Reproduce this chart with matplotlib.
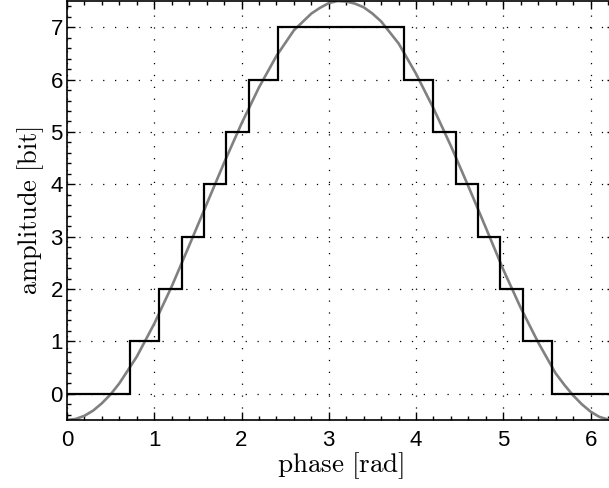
import matplotlib

matplotlib.use('agg')
import matplotlib.pyplot as plt
from matplotlib.ticker import MultipleLocator

# gray reference curve
phase = [0.0, 0.1, 0.2, 0.3, 0.4, 0.5, 0.6, 0.8, 1.0, 1.2, 1.4, 1.6, 1.8,
         2.0, 2.2, 2.4, 2.6, 2.8, 2.9, 3.0, 3.1, 3.2, 3.3, 3.4, 3.5, 3.6,
         3.8, 4.0, 4.2, 4.4, 4.6, 4.8, 5.0, 5.2, 5.4, 5.6, 5.7, 5.8, 5.9,
         6.0, 6.1, 6.2, 6.28]
amplitude = [-0.5, -0.48, -0.42, -0.32, -0.18, -0.01, 0.2, 0.71, 1.34,
             2.05, 2.83, 3.62, 4.41, 5.16, 5.85, 6.45, 6.94, 7.26, 7.37,
             7.46, 7.5, 7.49, 7.45, 7.38, 7.26, 7.11, 6.69, 6.11, 5.45,
             4.73, 3.96, 3.17, 2.37, 1.64, 0.98, 0.39, 0.17, -0.03, -0.2,
             -0.34, -0.44, -0.49, -0.5]

# quantised staircase: level holds from edge[i] to edge[i+1]
step_edges = [0.0, 0.72, 1.05, 1.32, 1.57, 1.82, 2.09, 2.42,
              3.86, 4.19, 4.46, 4.71, 4.96, 5.23, 5.56, 6.28]
step_levels = [0, 1, 2, 3, 4, 5, 6, 7, 6, 5, 4, 3, 2, 1, 0]

plt.rcParams['mathtext.fontset'] = 'cm'
plt.rcParams['font.family'] = ['Liberation Sans', 'DejaVu Sans']

fig = plt.figure(figsize=(6.09, 4.88), dpi=100)
ax = fig.add_axes([67 / 609, (488 - 420) / 488, 548 / 609, 419 / 488])

ax.plot(phase, amplitude, color='#808080', lw=1.9, zorder=2)
ax.stairs(step_levels, step_edges, baseline=None, color='black', lw=1.6,
          zorder=3)

ax.set_xlim(0, 6.28)
ax.set_ylim(-0.5, 7.5)
ax.xaxis.set_major_locator(MultipleLocator(1))
ax.xaxis.set_minor_locator(MultipleLocator(0.2))
ax.yaxis.set_major_locator(MultipleLocator(1))
ax.yaxis.set_minor_locator(MultipleLocator(0.2))
ax.tick_params(which='both', direction='in', top=True, right=True,
               labelsize=16, width=1.0)
ax.tick_params(which='major', length=6)
ax.tick_params(which='minor', length=3)
ax.tick_params(axis='x', which='major', pad=7)
ax.tick_params(axis='y', which='major', pad=3)
for s in ax.spines.values():
  s.set_linewidth(1.2)

ax.grid(True, which='major', color='black', linestyle=(0, (1, 8.5)), lw=0.9)

ax.set_xlabel(r'$\mathrm{phase\ [rad]}$', fontsize=19.5, labelpad=0)
ax.set_ylabel(r'$\mathrm{amplitude\ [bit]}$', fontsize=19, labelpad=3)

fig.savefig('out.png', dpi=100)
